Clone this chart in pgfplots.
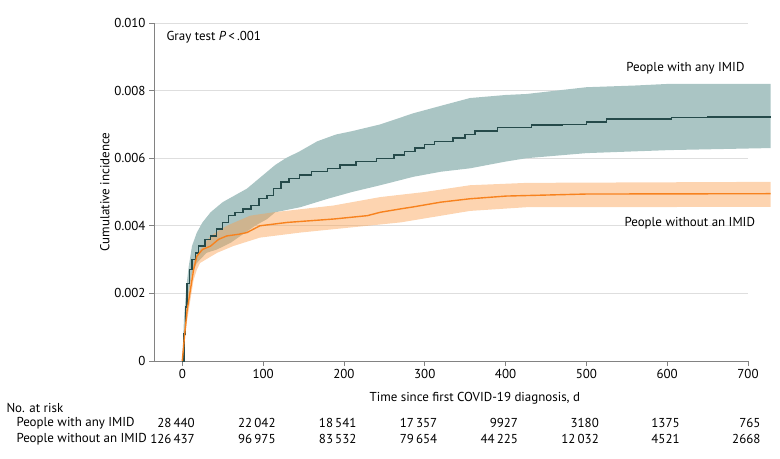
\documentclass[border=0pt]{standalone}
\usepackage{fontspec}
\setmainfont{PT Sans}
\usepackage{pgfplots}
\pgfplotsset{compat=1.18}
\usepgfplotslibrary{fillbetween}
\usepackage{pgfplotstable}

\definecolor{imidLine}{RGB}{37,74,74}
\definecolor{imidBand}{RGB}{170,197,196}
\definecolor{noLine}{RGB}{247,130,30}
\definecolor{noBand}{RGB}{250,160,80}
\definecolor{gridGray}{RGB}{222,222,222}
\definecolor{axisGray}{RGB}{130,130,130}

% curva IMID e banda
\pgfplotstableread{
x y
0 0
2 0.0008
4 0.0016
6 0.0023
9 0.0027
12 0.0030
16 0.0032
20 0.0034
28 0.0036
35 0.0037
42 0.0039
50 0.0041
57 0.0043
65 0.0044
75 0.0045
85 0.0046
95 0.0048
105 0.0049
113 0.0051
122 0.0053
132 0.0054
145 0.0055
160 0.0056
180 0.0057
195 0.0058
215 0.0059
240 0.0060
262 0.0061
275 0.0062
288 0.0063
300 0.0064
312 0.0065
335 0.0066
350 0.0067
362 0.0068
390 0.0069
432 0.00698
470 0.0070
500 0.00707
525 0.00716
605 0.0072
650 0.00722
728 0.00722
}\imidL

\pgfplotstableread{
x y
0 0
2 0.0012
5 0.0022
8 0.0028
12 0.0034
18 0.0038
25 0.0041
35 0.0044
50 0.0047
65 0.0049
80 0.0051
95 0.0054
105 0.0056
115 0.0058
128 0.0060
145 0.0062
167 0.0065
190 0.0067
210 0.0068
245 0.0070
286 0.00733
320 0.00755
356 0.00778
400 0.00787
426 0.0079
500 0.0081
560 0.00815
603 0.0082
728 0.0082
}\imidU

\pgfplotstableread{
x y
0 0
2 0.0005
5 0.0012
8 0.0020
12 0.0026
18 0.0029
30 0.0032
43 0.0033
60 0.0035
72 0.0037
90 0.0040
105 0.0042
115 0.0044
146 0.00455
180 0.0048
210 0.0050
245 0.0052
286 0.00545
320 0.0056
356 0.0057
400 0.0059
426 0.0060
500 0.00615
603 0.00624
728 0.0063
}\imidLo

% curva sem IMID e banda
\pgfplotstableread{
x y
0 0
3 0.0008
6 0.0015
10 0.0021
14 0.0027
18 0.0031
25 0.0033
35 0.0034
45 0.0036
55 0.0037
70 0.00375
80 0.0038
96 0.0040
130 0.0041
187 0.0042
229 0.0043
245 0.0044
270 0.0045
286 0.00456
320 0.0047
356 0.0048
401 0.00488
500 0.00494
728 0.00495
}\noL

\pgfplotstableread{
x y
0 0
3 0.0010
6 0.0018
10 0.0024
15 0.0030
22 0.0033
35 0.0037
55 0.0040
84 0.0043
113 0.0044
150 0.0045
187 0.0046
245 0.00485
300 0.0050
356 0.0052
426 0.00527
728 0.0053
}\noU

\pgfplotstableread{
x y
0 0
3 0.0006
6 0.0012
10 0.0018
14 0.0024
18 0.0027
22 0.0029
43 0.0032
63 0.0034
96 0.00365
146 0.0038
229 0.0040
270 0.0041
356 0.00444
426 0.00455
728 0.00456
}\noLo

\begin{document}
\begin{tikzpicture}
\begin{axis}[
    name=ax,
    width=594bp, height=338bp,
    scale only axis,
    clip=false,
    xmin=-35, xmax=700,
    ymin=0, ymax=0.010,
    axis x line*=bottom,
    axis y line*=left,
    axis line style={draw=axisGray, line width=0.8pt, -},
    tick align=outside,
    major tick length=5bp,
    tick style={axisGray, line width=0.8pt},
    xtick={0,100,...,700},
    ytick={0,0.002,0.004,0.006,0.008,0.010},
    yticklabels={0,0.002,0.004,0.006,0.008,0.010},
    scaled y ticks=false,
    /pgf/number format/assume math mode=true,
    ymajorgrids=true,
    grid style={gridGray, line width=0.8pt},
    tick label style={font=\fontsize{13}{15}\selectfont, text=black},
    label style={font=\fontsize{13}{15}\selectfont},
    ylabel={Cumulative incidence},
    ylabel style={yshift=-2bp},
    xlabel={Time since first COVID-19 diagnosis, d},
    xlabel style={at={(axis cs:362,0)}, anchor=center, yshift=-37bp},
]
% bandas
\addplot[draw=none, name path=iu, forget plot] table {\imidU};
\addplot[draw=none, name path=il, forget plot] table {\imidLo};
\addplot[imidBand, forget plot] fill between[of=iu and il];

\addplot[draw=none, name path=nu, forget plot] table {\noU};
\addplot[draw=none, name path=nl, forget plot] table {\noLo};
\addplot[noBand, fill opacity=0.45, forget plot] fill between[of=nu and nl];

% curvas
\addplot[imidLine, line width=1.4pt, const plot] table {\imidL};
\addplot[noLine, line width=1.4pt] table {\noL};

% anotações
\node[anchor=west, font=\fontsize{13}{15}\selectfont] at ([xshift=9bp, yshift=-14bp]axis cs:-35,0.010) {Gray test \textit{P}\,<\,.001};
\node[anchor=east, font=\fontsize{13}{15}\selectfont] at (axis cs:700,0.00867) {People with any IMID};
\node[anchor=east, font=\fontsize{13}{15}\selectfont] at (axis cs:713,0.00408) {People without an IMID};

% tabela de risco
\node[anchor=west, font=\fontsize{13}{15}\selectfont] at ([xshift=-151bp, yshift=-47bp]axis cs:-35,0) {No. at risk};
\node[anchor=west, font=\fontsize{13}{15}\selectfont] at ([xshift=-141bp, yshift=-62bp]axis cs:-35,0) {People with any IMID};
\node[anchor=west, font=\fontsize{13}{15}\selectfont] at ([xshift=-141bp, yshift=-78bp]axis cs:-35,0) {People without an IMID};

\foreach \xx/\aa/\bb in {0/28\,440/126\,437, 100/22\,042/96\,975, 200/18\,541/83\,532, 300/17\,357/79\,654, 400/9927/44\,225, 500/3180/12\,032, 600/1375/4521, 700/765/2668}{
    \edef\temp{\noexpand\node[anchor=east, font=\noexpand\fontsize{13}{15}\noexpand\selectfont] at ([xshift=16bp, yshift=-62bp]axis cs:\xx,0) {\aa};
    \noexpand\node[anchor=east, font=\noexpand\fontsize{13}{15}\noexpand\selectfont] at ([xshift=16bp, yshift=-78bp]axis cs:\xx,0) {\bb};}
    \temp
}
\end{axis}
\pgfresetboundingbox
\path[use as bounding box] ([shift={(-154bp,-98bp)}]ax.south west) rectangle ++(780bp,459bp);
\end{tikzpicture}
\end{document}
